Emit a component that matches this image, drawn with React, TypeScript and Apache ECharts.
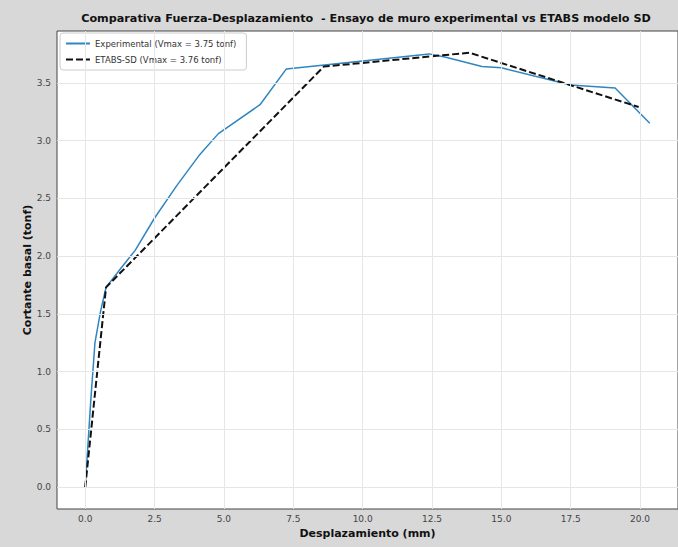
import React, { useEffect, useRef } from "react";
import * as echarts from "echarts";

const expX = [0, 0.2, 0.35, 0.55, 0.75, 1.3, 1.8, 2.5, 3.3, 4.1, 4.8, 6.3, 7.25, 12.4, 13.0, 14.3, 15.0, 17.5, 19.1, 20.35];
const expY = [0, 0.75, 1.25, 1.52, 1.73, 1.9, 2.05, 2.33, 2.61, 2.87, 3.06, 3.31, 3.62, 3.75, 3.72, 3.64, 3.63, 3.48, 3.455, 3.15];
const etabsX = [0, 0.75, 8.6, 13.85, 19.95];
const etabsY = [0, 1.73, 3.64, 3.76, 3.29];
const xTicks = [0, 2.5, 5, 7.5, 10, 12.5, 15, 17.5, 20];
const yTicks = [0, 0.5, 1, 1.5, 2, 2.5, 3, 3.5];

const titleText = "Comparativa Fuerza-Desplazamiento  - Ensayo de muro experimental vs ETABS modelo SD";
const expName = "Experimental (Vmax = 3.75 tonf)";
const etabsName = "ETABS-SD (Vmax = 3.76 tonf)";

const FONT = "DejaVu Sans";

export default function App() {
  const ref = useRef<HTMLDivElement>(null);
  useEffect(() => {
    if (!ref.current) return;
    const chart = echarts.init(ref.current, null, { renderer: "svg" });
    const xMin = -1.0175, xMax = 21.3675;
    const yMin = -0.188, yMax = 3.948;
    const gridData: any[] = [
      ...xTicks.map((v) => ({ xAxis: v })),
      ...yTicks.map((v) => ({ yAxis: v })),
    ];
    chart.setOption({
      animation: false,
      backgroundColor: "#d8d8d8",
      textStyle: { fontFamily: FONT },
      graphic: [
        {
          type: "text",
          x: 366,
          y: 13,
          style: {
            text: titleText,
            textAlign: "center",
            font: `bold 11.2px "${FONT}"`,
            fill: "#111",
          },
        },
      ],
      grid: {
        left: 57,
        right: 0,
        top: 31,
        bottom: 38,
        show: true,
        backgroundColor: "#ffffff",
        borderColor: "#444",
        borderWidth: 1,
      },
      legend: {
        left: 60,
        top: 33,
        orient: "vertical",
        itemGap: 7,
        itemWidth: 24,
        itemHeight: 8,
        padding: [6, 10, 6, 5],
        borderColor: "#cccccc",
        borderWidth: 1,
        borderRadius: 3,
        backgroundColor: "#ffffff",
        itemStyle: { opacity: 0 },
        textStyle: { fontFamily: FONT, fontSize: 8.5, color: "#333" },
        data: [expName, etabsName],
      },
      xAxis: {
        type: "value",
        min: xMin,
        max: xMax,
        name: "Desplazamiento (mm)",
        nameLocation: "middle",
        nameGap: 17,
        nameTextStyle: { fontFamily: FONT, fontWeight: "bold", fontSize: 11, color: "#111" },
        axisLine: { show: true, lineStyle: { color: "#444" } },
        axisTick: { show: true, customValues: xTicks, length: 3.5, lineStyle: { color: "#444" } },
        axisLabel: {
          customValues: xTicks,
          formatter: (v: number) => v.toFixed(1),
          fontFamily: FONT,
          fontSize: 9,
          color: "#444",
          margin: 5,
        },
        splitLine: { show: false },
      },
      yAxis: {
        type: "value",
        min: yMin,
        max: yMax,
        name: "Cortante basal (tonf)",
        nameLocation: "middle",
        nameGap: 24,
        nameMoveOverlap: false,
        nameTextStyle: { fontFamily: FONT, fontWeight: "bold", fontSize: 11, color: "#111" },
        axisLine: { show: true, lineStyle: { color: "#444" } },
        axisTick: { show: true, customValues: yTicks, length: 3.5, lineStyle: { color: "#444" } },
        axisLabel: {
          customValues: yTicks,
          formatter: (v: number) => v.toFixed(1),
          fontFamily: FONT,
          fontSize: 9,
          color: "#444",
          margin: 6,
        },
        splitLine: { show: false },
      },
      series: [
        {
          name: "grid",
          type: "line",
          data: [],
          z: 1,
          silent: true,
          markLine: {
            silent: true,
            symbol: "none",
            label: { show: false },
            lineStyle: { color: "#e6e6e6", width: 1, type: "solid" },
            data: gridData,
          },
        },
        {
          name: expName,
          type: "line",
          data: expX.map((x, i) => [x, expY[i]]),
          symbol: "none",
          z: 3,
          lineStyle: { color: "#2f86c0", width: 1.5 },
          itemStyle: { color: "#2f86c0" },
        },
        {
          name: etabsName,
          type: "line",
          data: etabsX.map((x, i) => [x, etabsY[i]]),
          symbol: "none",
          z: 4,
          lineStyle: { color: "#111", width: 2, type: [7, 3] },
          itemStyle: { color: "#111" },
        },
      ],
    });
    return () => chart.dispose();
  }, []);
  return <div ref={ref} style={{ width: 678, height: 547, position: "absolute", left: 0, top: 0 }} />;
}
